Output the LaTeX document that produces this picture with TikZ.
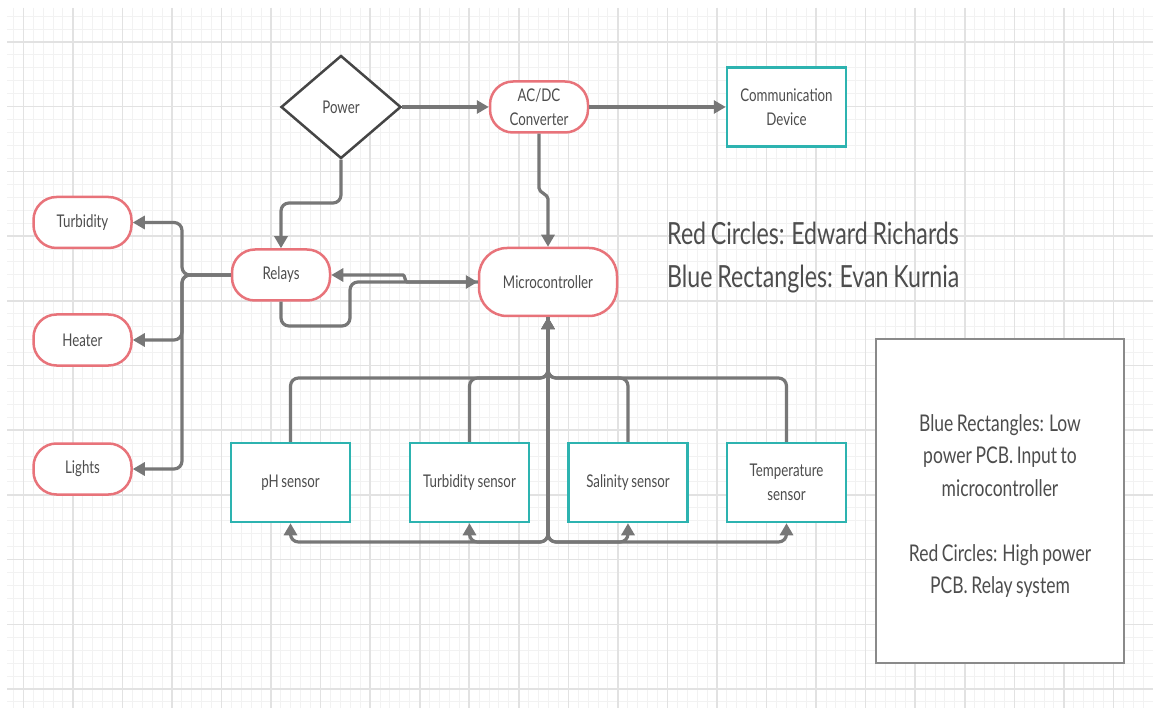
\documentclass[tikz,border=0pt]{standalone}
\usepackage{fontspec}
\setmainfont{Lato}[FakeStretch=0.76,WordSpace=0.8]
\usetikzlibrary{arrows.meta,shapes.geometric}
\definecolor{nodered}{HTML}{E8737A}
\definecolor{nodeteal}{HTML}{2DB3B0}
\definecolor{linegray}{HTML}{777777}
\definecolor{textgray}{HTML}{4D4D4D}
\definecolor{gridmin}{HTML}{F2F2F2}
\definecolor{gridmaj}{HTML}{E2E2E2}
\definecolor{diagray}{HTML}{454545}
\definecolor{boxgray}{HTML}{8A8A8A}
\newcommand\myNodeFont{\fontsize{17.5}{24}\selectfont}
\newcommand\myBigFont{\fontsize{30.5}{36}\selectfont}
\newcommand\myLegFont{\fontsize{23}{32.5}\selectfont}
\tikzset{
  gridminor/.style={draw=gridmin, line width=1pt},
  gridmajor/.style={draw=gridmaj, line width=1.6pt},
  redbox/.style={draw=nodered, line width=2.5pt, rounded corners=23pt, fill=white,
    minimum width=98pt, minimum height=51pt, text=textgray, font=\myNodeFont, inner sep=0pt, align=center},
  tealbox/.style={draw=nodeteal, line width=2.5pt, fill=white,
    minimum width=119pt, minimum height=79pt, text=textgray, font=\myNodeFont, inner sep=0pt, align=center},
  conn/.style={draw=linegray, line width=3.2pt, rounded corners=8pt, -{Triangle[length=12pt,width=13pt]}},
}
\begin{document}
\begin{tikzpicture}[x=1pt,y=-1pt]
\useasboundingbox (0,0) rectangle (1153,708);
\fill[white] (0,0) rectangle (1153,708);
% grid
\foreach \i in {-1,...,114}{
  \pgfmathsetmacro\gx{23.3+9.91*\i}
  \draw[gridminor] (\gx,8) -- (\gx,708);
}
\foreach \j in {-2,...,51}{
  \pgfmathsetmacro\gy{42+12.94*\j}
  \draw[gridminor] (7,\gy) -- (1153,\gy);
}
\foreach \i in {0,...,22}{
  \pgfmathsetmacro\gx{23.3+49.55*\i}
  \draw[gridmajor] (\gx,8) -- (\gx,708);
}
\foreach \j in {0,...,10}{
  \pgfmathsetmacro\gy{42+64.7*\j}
  \draw[gridmajor] (7,\gy) -- (1153,\gy);
}
% nodes
\node[diamond, draw=diagray, line width=2.5pt, fill=white, minimum width=120pt, minimum height=103pt,
  inner sep=0pt, text=textgray, font=\myNodeFont] (power) at (341,107) {Power};
\node[redbox] (acdc) at (539,107) {AC/DC\\Converter};
\node[tealbox] (comm) at (786.5,107) {Communication\\Device};
\node[redbox] (turb) at (82.5,222.5) {Turbidity};
\node[redbox] (heater) at (82.5,340) {Heater};
\node[redbox] (lights) at (82.5,469) {Lights};
\node[redbox] (relays) at (281,275) {Relays};
\node[redbox, minimum width=138pt, minimum height=68pt, rounded corners=28pt] (micro) at (548,282) {Microcontroller};
\node[tealbox] (ph) at (290.5,482.5) {pH sensor};
\node[tealbox] (turbs) at (469.5,482.5) {Turbidity sensor};
\node[tealbox] (sal) at (628,482.5) {Salinity sensor};
\node[tealbox] (temp) at (786.5,482.5) {Temperature\\sensor};
\coordinate (topbus) at (548,378);
\coordinate (botbus) at (548,542);
% connectors
\draw[conn] (power.east) -- (acdc.west);
\draw[conn] (acdc.east) -- (comm.west);
\draw[conn] (acdc.south) -- (539,180) .. controls (539,193) and (548,194) .. (548,207) -- (micro.north);
\draw[conn] (power.south) -- (341,203) -- (281,203) -- (relays.north);
\draw[conn] (relays.west) -- (182,275) -- (182,222.5) -- (turb.east);
\draw[conn] (relays.west) -- (182,275) -- (182,340) -- (heater.east);
\draw[conn] (relays.west) -- (182,275) -- (182,469) -- (lights.east);
\draw[conn] (micro.west) -- (415,282) .. controls (405,282) and (405,275) .. (395,275) -- (relays.east);
\draw[conn] (relays.south) -- (281,326) -- (350,326) -- (350,282) -- (micro.west);
\foreach \s in {ph,turbs,sal,temp}{
  \draw[conn] (\s.north) -- (\s.north |- topbus) -- (topbus) -- (micro.south);
  \draw[conn] (micro.south) -- (botbus) -- (\s.south |- botbus) -- (\s.south);
}
% texts
\node[anchor=base west, font=\myBigFont, text=textgray, inner sep=0pt] (t1) at (667,244.5) {Red Circles: Edward Richards};
\node[anchor=base west, font=\myBigFont, text=textgray, inner sep=0pt] (t2) at (667,287.5) {Blue Rectangles: Evan Kurnia};
\node[draw=boxgray, line width=2pt, fill=white, minimum width=248pt, minimum height=324pt, inner sep=0pt] (legend) at (1000,501) {};
\node[font=\myLegFont, text=textgray, align=center, inner sep=0pt] (legtext) at (1000,506)
  {Blue Rectangles: Low\\power PCB. Input to\\microcontroller\\[32.5pt]Red Circles: High power\\PCB. Relay system};
\end{tikzpicture}
\end{document}
